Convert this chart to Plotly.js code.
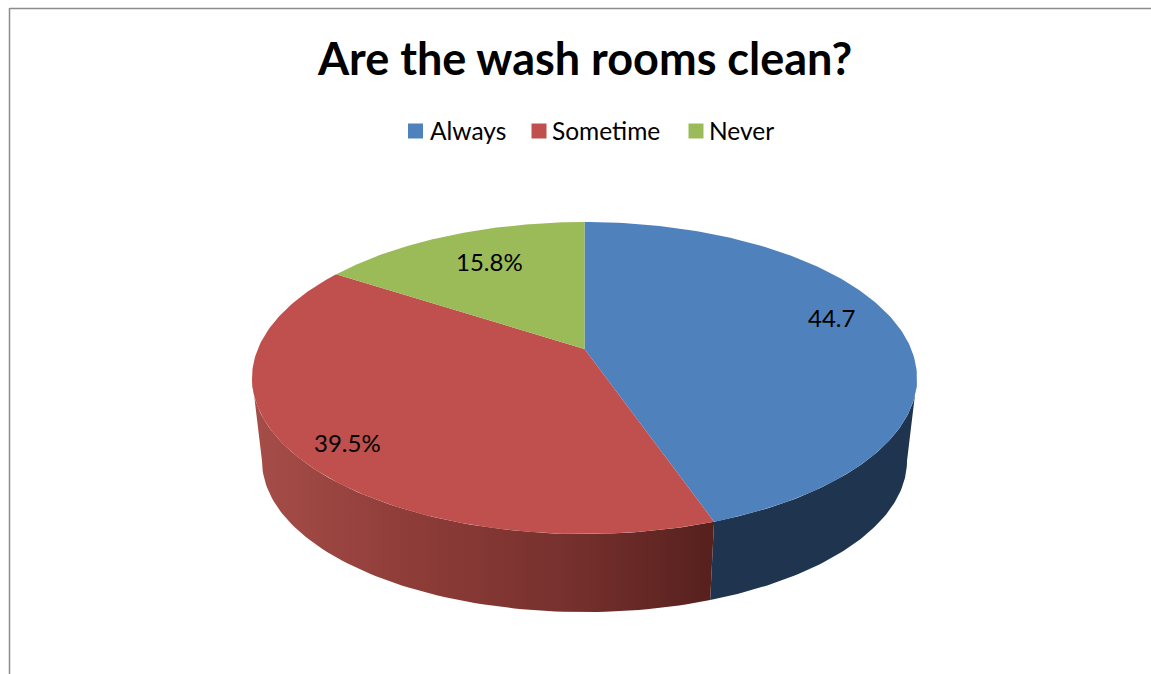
<!DOCTYPE html>
<html>
<head>
<meta charset="utf-8">
<script src="https://cdn.plot.ly/plotly-3.0.1.min.js"></script>
<style>html,body{margin:0;padding:0;background:#fff}#chart{width:1151px;height:674px}</style>
</head>
<body>
<div id="chart"></div>
<script>
// Chart data
const chartTitle = "Are the wash rooms clean?";
const categories = ["Always", "Sometime", "Never"];
const values = [44.7, 39.5, 15.8];
const valueLabels = ["44.7", "39.5%", "15.8%"];

// Style
const topColors = ["#4F81BD", "#C0504D", "#9BBB59"];
const FONT = "Lato, Carlito, 'Open Sans', sans-serif";
const labelPos = [[831, 317], [347, 442], [489, 261]];
const legendSwatchX = [415.5, 539, 696];
const legendTextX = [430, 552, 709];
const legendY = 130;

// Pie perspective geometry (axes run in picture pixels)
const apexX = 584.5, apexY = 349, a = 326.7, b = 150.6, k = 0.186;
const lowerScale = 0.97, lowerApexY = 432.6;

function rim(theta) {
  const w = 1 + k * Math.cos(theta);
  return [a * Math.sin(theta) / w, -b * Math.cos(theta) / w];
}
function arc(t0, t1, n) {
  const pts = [];
  for (let i = 0; i <= n; i++) pts.push(rim(t0 + (t1 - t0) * i / n));
  return pts;
}
const total = values.reduce((s, v) => s + v, 0);
let acc = 0;
const bounds = [0];
values.forEach(v => { acc += v; bounds.push(acc / total * 2 * Math.PI); });

const traces = [];
const silhouette = Math.acos(-k);

// Side walls
function wall(t0, t1, extra) {
  const up = arc(t0, t1, 80);
  const xs = up.map(p => apexX + p[0]);
  const ys = up.map(p => apexY + p[1]);
  up.slice().reverse().forEach(p => {
    xs.push(apexX + lowerScale * p[0]);
    ys.push(lowerApexY + lowerScale * p[1]);
  });
  xs.push(xs[0]); ys.push(ys[0]);
  traces.push(Object.assign({
    type: "scatter", mode: "lines", x: xs, y: ys, fill: "toself",
    line: {width: 0}, hoverinfo: "skip", showlegend: false
  }, extra));
}
wall(silhouette, bounds[1], {fillcolor: "#1F344F"});
wall(bounds[1], 2 * Math.PI - silhouette, {
  fillcolor: "#8A3A37",
  fillgradient: {
    type: "horizontal",
    colorscale: [[0, "#A64D49"], [0.35, "#8E3C38"], [0.7, "#75302D"], [1, "#56201D"]]
  }
});

// Top faces
categories.forEach((name, i) => {
  const pts = arc(bounds[i], bounds[i + 1], 160);
  const xs = [apexX].concat(pts.map(p => apexX + p[0]), [apexX]);
  const ys = [apexY].concat(pts.map(p => apexY + p[1]), [apexY]);
  traces.push({
    type: "scatter", mode: "lines", x: xs, y: ys, fill: "toself", name: name,
    fillcolor: topColors[i], line: {width: 0, color: topColors[i]},
    hoverinfo: "name", showlegend: false
  });
});

// Legend swatches
categories.forEach((name, i) => {
  traces.push({
    type: "scatter", mode: "markers", x: [legendSwatchX[i]], y: [legendY + 1],
    marker: {symbol: "square", size: 15, color: topColors[i]},
    hoverinfo: "skip", showlegend: false
  });
});

const annotations = [];
valueLabels.forEach((t, i) => annotations.push({
  x: labelPos[i][0], y: labelPos[i][1], text: t, showarrow: false,
  xanchor: "center", yanchor: "middle",
  font: {family: FONT, size: 24, color: "#000"}
}));
categories.forEach((t, i) => annotations.push({
  x: legendTextX[i], y: legendY, text: t, showarrow: false,
  xanchor: "left", yanchor: "middle", xshift: -2,
  font: {family: FONT, size: 24.5, color: "#000"}
}));

const layout = {
  width: 1151, height: 674,
  margin: {l: 0, r: 0, t: 0, b: 0},
  paper_bgcolor: "#fff", plot_bgcolor: "#fff",
  showlegend: false,
  title: {
    text: "<b>" + chartTitle + "</b>",
    x: 585 / 1151, xanchor: "center", xref: "container",
    y: 1 - 59 / 674, yanchor: "middle", yref: "container",
    font: {family: FONT, size: 45, color: "#000"}
  },
  xaxis: {range: [0, 1151], visible: false, fixedrange: true},
  yaxis: {range: [674, 0], visible: false, fixedrange: true},
  annotations: annotations,
  shapes: [
    {type: "line", xref: "paper", yref: "paper", x0: 9.5 / 1151, x1: 9.5 / 1151, y0: 0, y1: 1 - 8 / 674, line: {color: "#8C8C8C", width: 1.5}},
    {type: "line", xref: "paper", yref: "paper", x0: 9.5 / 1151, x1: 1, y0: 1 - 8.5 / 674, y1: 1 - 8.5 / 674, line: {color: "#8C8C8C", width: 1.5}}
  ]
};
Plotly.newPlot("chart", traces, layout, {displayModeBar: false});
</script>
</body>
</html>
